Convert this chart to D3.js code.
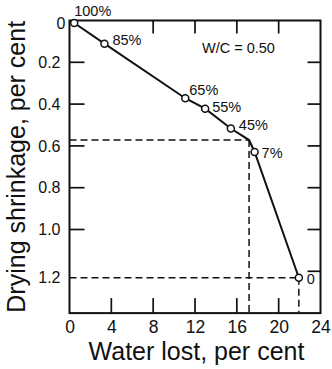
<!DOCTYPE html>
<html>
<head>
<meta charset="utf-8">
<script src="https://cdn.jsdelivr.net/npm/d3@7"></script>
<style>
  html, body { margin: 0; padding: 0; background: #fff; }
  svg { display: block; font-family: "Liberation Sans", Arial, Helvetica, sans-serif; }
</style>
</head>
<body>
<svg id="chart" width="332" height="369"></svg>
<script>
// ---- data ----
const waterLost   = [0.45, 3.34, 11.07, 12.97, 15.43, 17.17, 17.7, 21.93];
const shrinkage   = [0.012, 0.111, 0.372, 0.422, 0.517, 0.572, 0.629, 1.231];
const pointLabels = ["100%", "85%", "65%", "55%", "45%", null, "7%", "0"];
const breakIndex  = 5;   // point where the dashed guides meet (no marker)
const xTickValues = [0, 4, 8, 12, 16, 20, 24];
const yTickValues = [0, 0.2, 0.4, 0.6, 0.8, 1.0, 1.2];
const yTickLabels = ["0", "0.2", "0.4", "0.6", "0.8", "1.0", "1.2"];
const annotation  = "W/C = 0.50";
const xTitle = "Water lost, per cent";
const yTitle = "Drying shrinkage, per cent";

// ---- layout ----
const labelOffsets = [[0, -7], [8, 1], [4, -3], [7, 3], [8, 1], null, [7, 6], [8, 6]];

const svg = d3.select("#chart");
const x = d3.scaleLinear().domain([0, 24]).range([69.5, 320.5]);
const y = d3.scaleLinear().domain([0, 1.4]).range([20.5, 313.1]);
const ink = "#111";
const X0 = x(0), X1 = x(24), Y0 = y(0), Y1 = y(1.4);

const pts = waterLost.map((v, i) => ({ x: v, y: shrinkage[i], label: pointLabels[i], i }));

// frame
svg.append("rect").attr("x", X0).attr("y", Y0)
  .attr("width", X1 - X0).attr("height", Y1 - Y0)
  .attr("fill", "none").attr("stroke", ink).attr("stroke-width", 2);

// inward tick marks as thin filled bars (values taken from the tick arrays)
const tw = 1.7;
const tickBars = svg.append("g").attr("fill", ink);
yTickValues.filter(v => v > 0 && v < 1.1).forEach(v =>
  tickBars.append("rect").attr("x", X0).attr("y", y(v) - tw / 2).attr("width", 15).attr("height", tw));
yTickValues.filter(v => v > 0).forEach(v =>
  tickBars.append("rect").attr("x", X1 - 13).attr("y", y(v) - tw / 2).attr("width", 13).attr("height", tw));
xTickValues.filter(v => v > 5 && v < 24).forEach(v =>
  tickBars.append("rect").attr("x", x(v) - tw / 2).attr("y", Y0).attr("width", tw).attr("height", 13));
xTickValues.filter(v => v > 0 && v < 24).forEach(v =>
  tickBars.append("rect").attr("x", x(v) - tw / 2).attr("y", Y1 - 15).attr("width", tw).attr("height", 15));

// dashed guides
const guides = [pts[breakIndex], pts[pts.length - 1]];
const gG = svg.append("g").attr("stroke", ink).attr("stroke-width", 1.5)
  .attr("stroke-dasharray", "7,4").attr("fill", "none");
guides.forEach(p => {
  gG.append("line").attr("x1", X0).attr("x2", x(p.x)).attr("y1", y(p.y)).attr("y2", y(p.y));
  gG.append("line").attr("x1", x(p.x)).attr("x2", x(p.x)).attr("y1", y(p.y)).attr("y2", Y1);
});

// tick labels (axis generators, labels only)
function styleAxis(g) {
  g.select(".domain").remove();
  g.selectAll(".tick line").remove();
  g.selectAll("text").attr("fill", ink).attr("font-family", null);
}
const yl = svg.append("g").attr("transform", `translate(${X0},0)`)
  .call(d3.axisLeft(y).tickValues(yTickValues).tickSize(0).tickPadding(9)
        .tickFormat((d, i) => yTickLabels[i]))
  .call(styleAxis);
yl.selectAll("text").attr("font-size", 16);
yl.selectAll(".tick").filter(d => d === 0).select("text").attr("dx", 5).attr("dy", "0.5em");
yl.selectAll(".tick").filter(d => d === 1.2).select("text")
  .attr("transform", `translate(0,${y(shrinkage[shrinkage.length - 1]) - y(1.2)})`);

const xl = svg.append("g").attr("transform", `translate(0,${Y1})`)
  .call(d3.axisBottom(x).tickValues(xTickValues).tickSize(0).tickPadding(7).tickFormat(d3.format("d")))
  .call(styleAxis);
xl.selectAll("text").attr("font-size", 17.5);

// curve
svg.append("path").datum(pts)
  .attr("d", d3.line().x(d => x(d.x)).y(d => y(d.y)))
  .attr("fill", "none").attr("stroke", ink).attr("stroke-width", 2);

// markers
svg.append("g").selectAll("circle").data(pts.filter(d => d.label !== null)).join("circle")
  .attr("cx", d => x(d.x)).attr("cy", d => y(d.y)).attr("r", 3.5)
  .attr("fill", "#fff").attr("stroke", ink).attr("stroke-width", 1.5);

// point labels
svg.append("g").selectAll("text").data(pts.filter(d => d.label !== null)).join("text")
  .attr("x", d => x(d.x) + labelOffsets[d.i][0])
  .attr("y", d => y(d.y) + labelOffsets[d.i][1])
  .attr("font-size", 14.5).attr("fill", ink)
  .text(d => d.label);

// annotation
svg.append("text").attr("x", 202).attr("y", 53.3)
  .attr("font-size", 14.5).attr("fill", ink).text(annotation);

// axis titles
svg.append("text").attr("x", (X0 + X1) / 2 + 1.5).attr("y", 360)
  .attr("text-anchor", "middle").attr("font-size", 25).attr("fill", ink).text(xTitle);
svg.append("text").attr("transform", `translate(25,${(Y0 + Y1) / 2}) rotate(-90)`)
  .attr("text-anchor", "middle").attr("font-size", 25).attr("fill", ink).text(yTitle);
</script>
</body>
</html>
